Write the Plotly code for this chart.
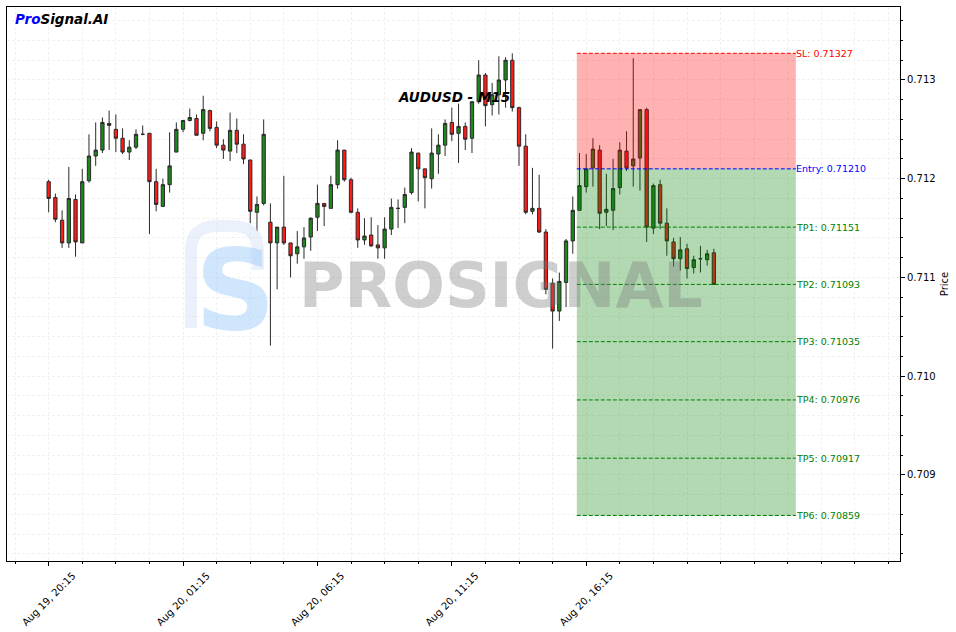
import plotly.graph_objects as go

# ---------------- data (AUDUSD M15) ----------------
opens = [0.71197, 0.71181, 0.71158, 0.71135, 0.71179, 0.71135, 0.71198, 0.71223, 0.71229, 0.71256,
         0.71250, 0.71241, 0.71227, 0.71232, 0.71245, 0.71246, 0.71197, 0.71172, 0.71194, 0.71227,
         0.71250, 0.71259, 0.71261, 0.71246, 0.71269, 0.71252, 0.71234, 0.71228, 0.71249, 0.71235,
         0.71219, 0.71166, 0.71175, 0.71156, 0.71135, 0.71151, 0.71135, 0.71124, 0.71131, 0.71141,
         0.71161, 0.71175, 0.71170, 0.71194, 0.71229, 0.71199, 0.71166, 0.71138, 0.71143, 0.71133,
         0.71130, 0.71149, 0.71170, 0.71171, 0.71186, 0.71226, 0.71210, 0.71200, 0.71225, 0.71234,
         0.71257, 0.71246, 0.71253, 0.71241, 0.71278, 0.71305, 0.71275, 0.71285, 0.71300, 0.71320,
         0.71272, 0.71233, 0.71167, 0.71170, 0.71146, 0.71094, 0.71066, 0.71095, 0.71137, 0.71168,
         0.71192, 0.71211, 0.71229, 0.71166, 0.71168, 0.71191, 0.71228, 0.71213, 0.71221, 0.71270,
         0.71150, 0.71194, 0.71155, 0.71136, 0.71119, 0.71129, 0.71110, 0.71119, 0.71118, 0.71125]
highs = [0.71199, 0.71185, 0.71168, 0.71212, 0.71184, 0.71210, 0.71245, 0.71257, 0.71262, 0.71269,
         0.71265, 0.71251, 0.71239, 0.71250, 0.71254, 0.71246, 0.71210, 0.71200, 0.71247, 0.71257,
         0.71259, 0.71271, 0.71265, 0.71284, 0.71270, 0.71258, 0.71240, 0.71267, 0.71261, 0.71245,
         0.71219, 0.71182, 0.71260, 0.71175, 0.71151, 0.71203, 0.71135, 0.71147, 0.71151, 0.71161,
         0.71194, 0.71175, 0.71203, 0.71239, 0.71229, 0.71201, 0.71170, 0.71160, 0.71161, 0.71153,
         0.71161, 0.71180, 0.71179, 0.71191, 0.71231, 0.71226, 0.71210, 0.71251, 0.71245, 0.71260,
         0.71272, 0.71276, 0.71257, 0.71278, 0.71320, 0.71307, 0.71297, 0.71324, 0.71323, 0.71327,
         0.71273, 0.71245, 0.71211, 0.71204, 0.71149, 0.71099, 0.71105, 0.71139, 0.71182, 0.71226,
         0.71225, 0.71241, 0.71234, 0.71205, 0.71220, 0.71237, 0.71248, 0.71322, 0.71270, 0.71272,
         0.71195, 0.71199, 0.71170, 0.71140, 0.71141, 0.71134, 0.71122, 0.71132, 0.71128, 0.71129]
lows = [0.71166, 0.71156, 0.71130, 0.71130, 0.71121, 0.71135, 0.71196, 0.71213, 0.71226, 0.71229,
        0.71227, 0.71225, 0.71219, 0.71230, 0.71244, 0.71144, 0.71167, 0.71172, 0.71186, 0.71227,
        0.71247, 0.71258, 0.71244, 0.71239, 0.71248, 0.71231, 0.71220, 0.71218, 0.71226, 0.71215,
        0.71155, 0.71147, 0.71173, 0.71031, 0.71088, 0.71133, 0.71100, 0.71114, 0.71119, 0.71127,
        0.71147, 0.71152, 0.71170, 0.71190, 0.71197, 0.71165, 0.71130, 0.71133, 0.71131, 0.71119,
        0.71119, 0.71143, 0.71150, 0.71155, 0.71184, 0.71177, 0.71170, 0.71190, 0.71205, 0.71223,
        0.71238, 0.71216, 0.71229, 0.71226, 0.71276, 0.71253, 0.71264, 0.71265, 0.71272, 0.71268,
        0.71213, 0.71164, 0.71164, 0.71145, 0.71083, 0.71028, 0.71056, 0.71070, 0.71124, 0.71168,
        0.71186, 0.71192, 0.71149, 0.71152, 0.71148, 0.71184, 0.71208, 0.71192, 0.71188, 0.71136,
        0.71144, 0.71149, 0.71122, 0.71111, 0.71107, 0.71099, 0.71104, 0.71105, 0.71112, 0.71093]
closes = [0.71180, 0.71159, 0.71135, 0.71180, 0.71136, 0.71197, 0.71223, 0.71229, 0.71257, 0.71254,
          0.71241, 0.71227, 0.71232, 0.71245, 0.71245, 0.71197, 0.71174, 0.71194, 0.71213, 0.71250,
          0.71259, 0.71262, 0.71244, 0.71270, 0.71251, 0.71234, 0.71229, 0.71249, 0.71235, 0.71220,
          0.71167, 0.71174, 0.71245, 0.71135, 0.71151, 0.71135, 0.71122, 0.71131, 0.71140, 0.71160,
          0.71175, 0.71172, 0.71194, 0.71229, 0.71199, 0.71166, 0.71138, 0.71142, 0.71132, 0.71130,
          0.71149, 0.71171, 0.71170, 0.71184, 0.71227, 0.71210, 0.71201, 0.71226, 0.71234, 0.71256,
          0.71245, 0.71253, 0.71240, 0.71278, 0.71305, 0.71274, 0.71285, 0.71300, 0.71320, 0.71272,
          0.71233, 0.71166, 0.71170, 0.71146, 0.71088, 0.71066, 0.71096, 0.71137, 0.71168, 0.71193,
          0.71210, 0.71230, 0.71165, 0.71169, 0.71190, 0.71229, 0.71211, 0.71220, 0.71270, 0.71151,
          0.71193, 0.71155, 0.71137, 0.71119, 0.71128, 0.71109, 0.71118, 0.71119, 0.71124, 0.71093]
bar_index = list(range(len(opens)))

x_tick_index = [0, 20, 40, 60, 80, 100, 120]
x_tick_labels = ["Aug 19, 20:15", "Aug 20, 01:15", "Aug 20, 06:15",
                 "Aug 20, 11:15", "Aug 20, 16:15", "", ""]
y_tick_values = [0.709, 0.710, 0.711, 0.712, 0.713]

level_names = ["SL", "Entry", "TP1", "TP2", "TP3", "TP4", "TP5", "TP6"]
level_values = [0.71327, 0.71210, 0.71151, 0.71093, 0.71035, 0.70976, 0.70917, 0.70859]
level_colors = ["red", "blue", "green", "green", "green", "green", "green", "green"]

zone_start = 78.6
zone_end = 111.2

# ---------------- figure ----------------
W, H = 956, 632
ML, MR, MT, MB = 7, 56, 7, 71
PW, PH = W - ML - MR, H - MT - MB


def px(xp):
    return (xp - ML) / PW


def py(yp):
    return (H - MB - yp) / PH


fig = go.Figure()
fig.add_trace(go.Candlestick(
    x=bar_index, open=opens, high=highs, low=lows, close=closes,
    increasing=dict(fillcolor="#1c881c", line=dict(color="#2a2a2a", width=1)),
    decreasing=dict(fillcolor="#ff1a1a", line=dict(color="#2a2a2a", width=1)),
    whiskerwidth=0, showlegend=False, name="AUDUSD",
))

shapes = []
# signal zones (drawn above candles, translucent)
shapes.append(dict(type="rect", xref="x", yref="y", x0=zone_start, x1=zone_end,
                   y0=level_values[1], y1=level_values[0], layer="above",
                   fillcolor="rgba(255,0,0,0.3)", line=dict(width=0)))
shapes.append(dict(type="rect", xref="x", yref="y", x0=zone_start, x1=zone_end,
                   y0=level_values[-1], y1=level_values[1], layer="above",
                   fillcolor="rgba(0,128,0,0.3)", line=dict(width=0)))
for v, c in zip(level_values, level_colors):
    shapes.append(dict(type="line", xref="x", yref="y", x0=zone_start, x1=zone_end,
                       y0=v, y1=v, layer="above", line=dict(color=c, width=1, dash="4px,2px")))

# faint "P" outline of the watermark logo
shapes.append(dict(type="path", xref="paper", yref="paper", layer="above",
                   path=(f"M {px(191)} {py(328)} L {px(191)} {py(250)} "
                         f"Q {px(191)} {py(226)} {px(218)} {py(226)} "
                         f"L {px(232)} {py(226)} Q {px(258)} {py(226)} {px(258)} {py(250)} "
                         f"L {px(258)} {py(270)}"),
                   line=dict(color="rgba(215,228,245,0.5)", width=12)))

annotations = []
for n, v, c in zip(level_names, level_values, level_colors):
    annotations.append(dict(x=zone_end, y=v, xref="x", yref="y", text=f"{n}: {v:.5f}",
                            showarrow=False, xanchor="left", yanchor="middle", xshift=-2,
                            font=dict(family="DejaVu Sans", size=9.5, color=c)))

annotations.append(dict(x=0.5, y=py(97), xref="paper", yref="paper",
                        text="<b><i>AUDUSD - M15</i></b>", showarrow=False,
                        xanchor="center", yanchor="middle",
                        font=dict(family="DejaVu Sans", size=13.5, color="black")))
annotations.append(dict(x=px(13), y=py(19), xref="paper", yref="paper",
                        text="<b><i><span style='color:blue'>Pro</span>Signal.AI</i></b>",
                        showarrow=False, xanchor="left", yanchor="middle",
                        font=dict(family="DejaVu Sans", size=13.5, color="black")))
# watermark
annotations.append(dict(x=px(236), y=py(290), xref="paper", yref="paper",
                        text="<b>S</b>", showarrow=False, xanchor="center", yanchor="middle",
                        font=dict(family="DejaVu Sans", size=112, color="rgba(150,200,250,0.45)")))
annotations.append(dict(x=px(501), y=py(285), xref="paper", yref="paper",
                        text="<b>PROSIGNAL</b>", showarrow=False, xanchor="center", yanchor="middle",
                        font=dict(family="DejaVu Sans", size=62, color="rgba(120,120,120,0.36)")))

grid = dict(showgrid=True, gridcolor="#f1f1f1", griddash="3px,2px", gridwidth=1)

fig.update_layout(
    width=W, height=H,
    margin=dict(l=ML, r=MR, t=MT, b=MB, autoexpand=False),
    paper_bgcolor="white", plot_bgcolor="white",
    font=dict(family="DejaVu Sans", size=10, color="black"),
    shapes=shapes, annotations=annotations,
    hovermode=False,
    xaxis=dict(
        range=[-6.2, 126.7], tickmode="array", tickvals=x_tick_index, ticktext=x_tick_labels,
        tickangle=-45, ticks="outside", ticklen=4, tickcolor="black", tickwidth=1,
        ticklabelshift=24, ticklabelstandoff=0, automargin=False,
        showline=True, mirror=True, linecolor="black", linewidth=1, zeroline=False,
        rangeslider=dict(visible=False), tickfont=dict(size=10),
        minor=dict(tickvals=list(range(-5, 127, 5)), ticks="outside", ticklen=2,
                   tickcolor="black", **grid),
        **grid,
    ),
    yaxis=dict(
        side="right", range=[0.708129, 0.713739], tickmode="array", tickvals=y_tick_values,
        ticktext=[f"{v:.3f}" for v in y_tick_values], automargin=False,
        ticks="outside", ticklen=4, tickcolor="black", tickwidth=1,
        showline=True, mirror=True, linecolor="black", linewidth=1, zeroline=False,
        tickfont=dict(size=10), title=dict(text="Price", font=dict(size=10), standoff=6),
        minor=dict(dtick=0.0002, tick0=0.709, ticks="outside", ticklen=2,
                   tickcolor="black", **grid),
        **grid,
    ),
    boxgap=0.3,
)

fig.write_html("out.html", config={"displayModeBar": False, "staticPlot": True},
               post_script="document.body.style.margin='0';document.body.style.overflow='hidden';")
